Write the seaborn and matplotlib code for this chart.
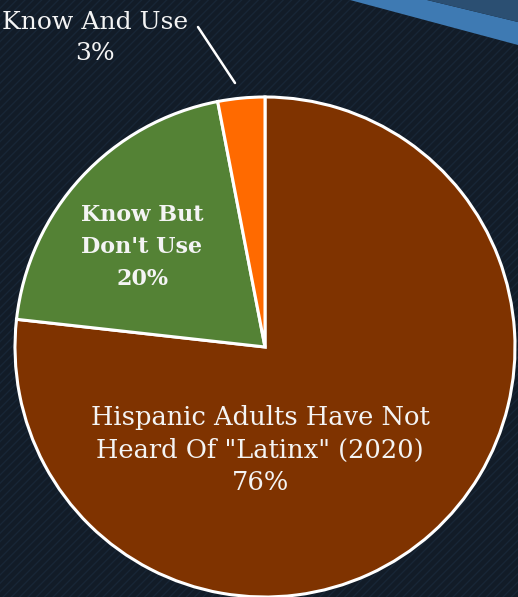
import matplotlib
matplotlib.use('Agg')
import matplotlib.pyplot as plt
import matplotlib.patches as mpatches
import seaborn as sns

# chart data
labels = ['Hispanic Adults Have Not\nHeard Of "Latinx" (2020)', "Know But\nDon't Use", 'Know And Use']
values = [76, 20, 3]
colors = ['#7F3300', '#548235', '#FF6A00']

BG = '#121C28'
TXT = '#F4F4F4'

sns.set_theme(style='white')
plt.rcParams['font.family'] = ['DejaVu Serif', 'DejaVu Sans']

W, H = 518, 597
fig = plt.figure(figsize=(W / 100, H / 100), dpi=100)
fig.patch.set_facecolor(BG)
ax = fig.add_axes([0, 0, 1, 1])
ax.set_facecolor(BG)

# faint diagonal texture on background
plt.rcParams['hatch.color'] = '#182636'
plt.rcParams['hatch.linewidth'] = 1.0
ax.add_patch(mpatches.Rectangle((0, 0), W, H, facecolor='none', edgecolor='#182636',
                                hatch='////', linewidth=0, zorder=0))

# light blue band at top right
ax.add_patch(mpatches.Polygon([(350, H), (518, H - 45), (518, H - 22), (427, H)],
                              closed=True, facecolor='#3E7AB3', edgecolor='none', zorder=1))
ax.add_patch(mpatches.Polygon([(427, H), (518, H - 22), (518, H)],
                              closed=True, facecolor='#2B4F72', edgecolor='none', zorder=1))

wedges, _ = ax.pie(values, colors=colors, startangle=90, counterclock=False,
                   center=(265, H - 347), radius=250, frame=True,
                   wedgeprops=dict(edgecolor='white', linewidth=2.2))
for w in wedges:
    w.set_zorder(2)
ax.set_xlim(0, W)
ax.set_ylim(0, H)
ax.set_aspect('equal')
ax.axis('off')

ax.text(260, H - 450, labels[0] + f'\n{values[0]}%', ha='center', va='center',
        color=TXT, fontsize=18.5, linespacing=1.4, zorder=3)
ax.text(142, H - 247, labels[1] + f'\n{values[1]}%', ha='center', va='center',
        color=TXT, fontsize=16, fontweight='bold', linespacing=1.6, zorder=3)
ax.text(95, H - 38, labels[2] + f'\n{values[2]}%', ha='center', va='center',
        color=TXT, fontsize=18, linespacing=1.45, zorder=3)
ax.plot([198, 235], [H - 27, H - 83], color='white', linewidth=1.8, zorder=3)

fig.savefig('out.png', dpi=100, facecolor=BG)
